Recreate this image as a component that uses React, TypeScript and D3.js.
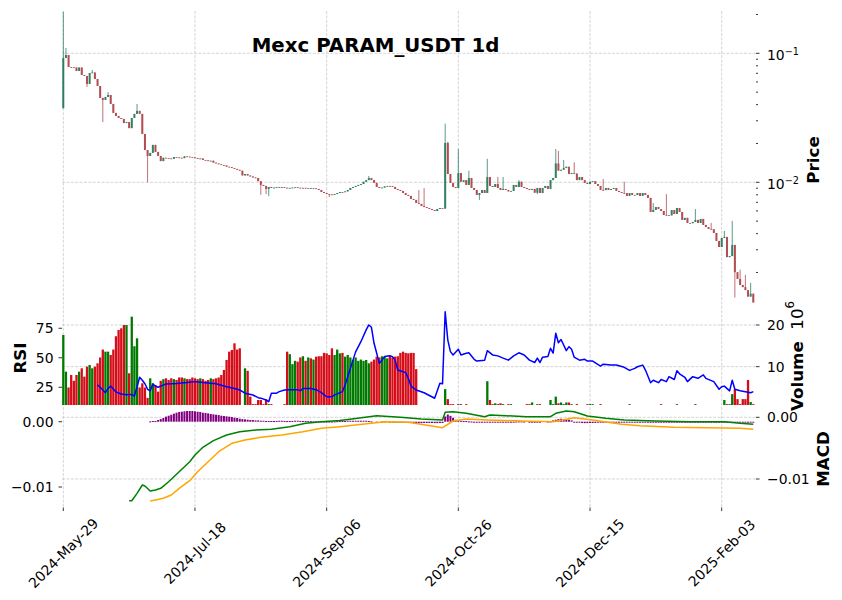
import { useEffect, useRef } from 'react';
import * as d3 from 'd3';

const TITLE = 'Mexc PARAM_USDT 1d';
const START_DATE = '2024-05-29';

// daily closes, open of each day = previous close
const firstOpen = 0.0375;
const closes = [
  0.0919, 0.097, 0.0783, 0.078, 0.0776, 0.0729, 0.0776, 0.0679, 0.0667, 0.0578,
  0.0704, 0.071, 0.0632, 0.0558, 0.0451, 0.0435, 0.0459, 0.0475, 0.0405, 0.0345,
  0.0327, 0.0315, 0.031, 0.0288, 0.0293, 0.0263, 0.0315, 0.0339, 0.0358, 0.0339,
  0.0237, 0.0178, 0.016, 0.0169, 0.0195, 0.0172, 0.016, 0.0146, 0.0155, 0.0154,
  0.0153, 0.0152, 0.0157, 0.0156, 0.0155, 0.0154, 0.0159, 0.0158, 0.0157, 0.0156,
  0.0154, 0.0152, 0.0153, 0.0149, 0.0148, 0.0146, 0.0147, 0.0142, 0.014, 0.0138,
  0.0136, 0.0135, 0.0132, 0.0131, 0.0129, 0.0127, 0.0125, 0.0123, 0.0113, 0.0116,
  0.0113, 0.0111, 0.0109, 0.0108, 0.0102, 0.00954, 0.00937, 0.00888, 0.0092, 0.00904,
  0.0091, 0.0092, 0.0091, 0.00918, 0.00908, 0.009, 0.00905, 0.0091, 0.00915, 0.00908,
  0.00902, 0.00906, 0.00898, 0.00903, 0.00895, 0.00899, 0.00888, 0.00872, 0.00841, 0.00826,
  0.00812, 0.00805, 0.00798, 0.00812, 0.00826, 0.00841, 0.00838, 0.0085, 0.00872, 0.00904,
  0.0092, 0.00937, 0.00954, 0.0097, 0.0101, 0.0104, 0.0108, 0.0104, 0.0099, 0.0092,
  0.00904, 0.0091, 0.0093, 0.00937, 0.00935, 0.0092, 0.00888, 0.00872, 0.00857, 0.00826,
  0.00798, 0.00784, 0.00743, 0.0073, 0.00692, 0.0068, 0.00655, 0.00643, 0.00632, 0.00621,
  0.0061, 0.00599, 0.00621, 0.00632, 0.00625, 0.0202, 0.0116, 0.0099, 0.0092, 0.00904,
  0.0118, 0.0101, 0.0104, 0.00954, 0.0108, 0.00904, 0.00872, 0.00798, 0.00826, 0.00872,
  0.00826, 0.011, 0.00937, 0.0092, 0.0097, 0.00904, 0.00872, 0.00888, 0.00872, 0.0085,
  0.00857, 0.00954, 0.0092, 0.0101, 0.0092, 0.00904, 0.00888, 0.00872, 0.00888, 0.0083,
  0.00904, 0.00826, 0.00904, 0.00937, 0.00888, 0.0104, 0.0108, 0.014, 0.0123, 0.0125,
  0.0129, 0.0132, 0.0116, 0.0118, 0.0117, 0.0104, 0.011, 0.0104, 0.0099, 0.0097,
  0.0101, 0.0102, 0.0097, 0.00937, 0.00872, 0.0087, 0.00904, 0.00872, 0.00888, 0.00904,
  0.00857, 0.00841, 0.00826, 0.00824, 0.00784, 0.00826, 0.00798, 0.00796, 0.00826, 0.00784,
  0.00826, 0.00798, 0.00757, 0.00589, 0.0061, 0.00643, 0.0062, 0.00599, 0.00558, 0.00556,
  0.00554, 0.0061, 0.00568, 0.00632, 0.00589, 0.00511, 0.0053, 0.00484, 0.00482, 0.00493,
  0.00511, 0.00484, 0.0052, 0.00467, 0.0045, 0.00435, 0.00433, 0.00405, 0.00351, 0.00315,
  0.0037, 0.00377, 0.00263, 0.00268, 0.00327, 0.00201, 0.00178, 0.0016, 0.00154, 0.00146,
  0.0013, 0.00137, 0.00117,
];

// [day, value] wicks that stick out beyond the body
const highWicks: [number, number][] = [
  [0, 0.21], [1, 0.11], [11, 0.0742], [17, 0.0501], [28, 0.0405], [116, 0.0112],
  [135, 0.0087], [137, 0.009], [145, 0.0285], [146, 0.0206], [150, 0.0181], [154, 0.0123],
  [161, 0.0152], [165, 0.011], [167, 0.011], [173, 0.0104], [187, 0.0181], [188, 0.0175],
  [190, 0.0149], [194, 0.0143], [205, 0.0106], [213, 0.0101], [224, 0.0069], [229, 0.0081],
  [240, 0.0062], [246, 0.00484], [251, 0.0042], [254, 0.00502], [257, 0.0021], [259, 0.00191],
  [261, 0.00166],
];
const lowWicks: [number, number][] = [
  [9, 0.0548], [15, 0.0293], [32, 0.01], [75, 0.008], [77, 0.0081], [78, 0.0078],
  [101, 0.0077], [158, 0.0073], [180, 0.0081], [255, 0.00128],
];

// volume in millions
const volumes = [
  17.6, 8.8, 5.0, 8.0, 6.6, 8.0, 8.8, 9.6, 7.6, 10.0,
  10.4, 9.6, 10.0, 10.8, 12.2, 14.1, 13.6, 13.6, 12.8, 14.1,
  17.3, 18.8, 19.2, 20.0, 20.0, 8.4, 22.0, 14.9, 16.8, 5.0,
  6.0, 5.0, 2.5, 7.2, 6.0, 5.6, 4.0, 6.6, 7.0, 7.2,
  6.8, 7.2, 7.0, 6.8, 7.4, 7.4, 7.2, 7.0, 7.0, 7.4,
  7.2, 7.0, 7.2, 7.0, 6.6, 6.8, 7.2, 7.0, 7.2, 7.4,
  8.0, 9.2, 11.6, 13.6, 14.0, 15.6, 14.1, 14.4, 0, 9.6,
  9.0, 2.8, 1.0, 1.0, 2.0, 2.0, 1.0, 2.2, 1.0, 1.0,
  0, 0, 0, 0, 1.0, 13.6, 13.0, 10.6, 11.4, 11.2,
  12.2, 12.5, 11.4, 12.2, 12.0, 11.7, 12.4, 12.5, 12.5, 13.3,
  13.2, 12.8, 14.4, 12.8, 14.1, 13.2, 13.3, 12.4, 12.8, 12.2,
  11.6, 12.2, 11.4, 11.7, 11.4, 11.6, 10.8, 11.2, 11.7, 12.4,
  12.2, 12.5, 12.4, 12.0, 12.5, 12.2, 12.4, 12.5, 13.3, 13.6,
  13.3, 13.2, 13.3, 13.3, 9.4, 0, 0, 0, 0, 0,
  0, 0, 0, 0, 0, 4.6, 2.2, 1.0, 1.0, 0,
  1.0, 1.0, 0, 1.0, 0, 0, 0, 0, 0, 0,
  0, 6.5, 2.0, 1.0, 1.2, 1.0, 1.2, 1.0, 0, 1.0,
  1.0, 0, 0, 0, 0, 0, 1.0, 1.0, 1.4, 0,
  1.0, 1.0, 0, 0, 0, 2.0, 1.0, 2.8, 1.2, 1.4,
  1.0, 1.4, 1.4, 1.0, 0, 1.0, 0, 0, 0, 1.0,
  1.0, 1.0, 0, 0, 1.0, 0, 0, 0, 0, 0,
  0, 0, 0, 0, 0, 1.0, 0, 0, 0, 0,
  0, 0, 0, 0, 0, 0, 0, 1.0, 0, 0,
  0, 0, 0, 1.0, 0, 0, 0, 0, 0, 0,
  1.0, 0, 0, 0, 0, 0, 0, 0, 0, 0,
  0, 2.0, 1.0, 1.0, 3.4, 4.6, 2.2, 1.0, 2.2, 2.2,
  6.8, 1.5, 1.0,
];

// [day, RSI]
const rsiPoints: [number, number][] = [
  [13, 27], [14, 25], [16, 20.4], [17, 24], [18, 26], [20, 21], [22, 19.3], [24, 18.6],
  [26, 19], [27, 17.6], [28, 25.5], [29, 33.5], [30, 31], [31, 28], [32, 23.3], [33, 22],
  [34, 27.8], [35, 26], [36, 25], [37, 26], [39, 27.8], [43, 28.2], [47, 29], [50, 29.8],
  [53, 29], [58, 28], [62, 25.5], [65, 24], [67, 22.7], [69, 20], [72, 18.5], [74, 16.2],
  [75, 15.8], [77, 14.2], [78, 12.8], [79, 20], [81, 20], [82, 21.3], [84, 22.7], [86, 23],
  [89, 23], [90, 22], [91, 24], [94, 24], [96, 23], [98, 20.4], [100, 17], [102, 17],
  [103, 18.6], [104, 19.4], [106, 21.3], [107, 27], [108, 34], [110, 48], [111, 55], [113, 63.6],
  [115, 73.6], [116, 77.8], [117, 75.8], [118, 62.3], [119, 53.8], [120, 45.3], [121, 48], [122, 51],
  [124, 51.7], [125, 51], [126, 48], [127, 39.7], [129, 38.2], [130, 37.4], [131, 32.6], [132, 26],
  [134, 22.7], [137, 20.4], [141, 15.7], [143, 28.4], [144, 28], [145, 89], [146, 65], [147, 55.2],
  [148, 52.4], [150, 57.2], [151, 52.4], [153, 53.8], [154, 54.2], [156, 48.7], [157, 47.2], [160, 48],
  [161, 56], [163, 52.4], [165, 51.6], [167, 49.7], [169, 48], [171, 51.6], [173, 54.2], [175, 52.4],
  [177, 48], [179, 46], [180, 49.7], [181, 46], [182, 50.5], [184, 51], [185, 58], [186, 54],
  [187, 70.8], [188, 62.7], [189, 65.5], [191, 56], [192, 59.4], [193, 57.2], [194, 50.5], [196, 48],
  [198, 48.7], [199, 47.2], [201, 47.2], [204, 43], [205, 44.6], [208, 43.8], [210, 43.8], [213, 41.9],
  [215, 39.3], [217, 41], [218, 42.4], [220, 43.8], [221, 39.8], [223, 28.9], [224, 31], [226, 28.9],
  [227, 31.6], [229, 29.8], [230, 34], [232, 31.6], [233, 39], [234, 36.4], [236, 33.5], [237, 29.8],
  [239, 34], [241, 32.6], [243, 35.5], [244, 32.6], [247, 29.8], [249, 23.3], [250, 25.5], [251, 26],
  [253, 22], [254, 31], [255, 23.3], [257, 22], [259, 21.3], [261, 20.4], [262, 21.3],
];

// [day, value]
const macdPoints: [number, number][] = [
  [25, -0.01352], [26, -0.01352], [28, -0.01232], [30, -0.01097], [31, -0.01113], [33, -0.01194],
  [35, -0.01178], [37, -0.01151], [40, -0.01044], [44, -0.00882], [48, -0.0072], [50, -0.00611],
  [53, -0.00486], [57, -0.00379], [62, -0.00287], [67, -0.00233], [73, -0.00206], [79, -0.00194],
  [86, -0.00152], [92, -0.00097], [98, -0.00071], [105, -0.00052], [111, -0.00019], [119, 0.00026],
  [128, 0], [136, -0.00028], [144, -0.00044], [145, 0.00081], [148, 0.00091], [153, 0.00065],
  [160, 0.0001], [162, 0.00037], [168, 0.00026], [176, 0.0001], [185, 0.0001], [187, 0.00065],
  [191, 0.00102], [194, 0.00091], [199, 0.00021], [206, -0.00016], [213, -0.00044], [225, -0.0006],
  [238, -0.00071], [251, -0.00071], [257, -0.00097], [262, -0.00113],
];
const signalPoints: [number, number][] = [
  [33, -0.01357], [35, -0.0134], [38, -0.01313], [41, -0.01259], [44, -0.01151], [48, -0.01028],
  [51, -0.00882], [55, -0.0072], [59, -0.00558], [64, -0.00421], [69, -0.00368], [75, -0.00324],
  [83, -0.00287], [91, -0.00233], [98, -0.00178], [105, -0.00152], [111, -0.00125], [122, -0.00071],
  [131, -0.00081], [144, -0.00169], [148, -0.0006], [153, -0.00028], [161, -0.00044], [174, -0.0006],
  [186, -0.00071], [194, -0.00006], [201, -0.00044], [212, -0.00113], [219, -0.00136], [232, -0.00162],
  [244, -0.00169], [257, -0.00178], [262, -0.00194],
];

// histogram values from day 33 onward
const HIST_START = 33;
const histValues = [
  0.00005, 0.0001, 0.0001, 0.00026, 0.0004, 0.00057, 0.00077, 0.00092, 0.00107, 0.00123,
  0.00138, 0.00149, 0.00153, 0.00159, 0.00164, 0.00164, 0.00164, 0.00159, 0.00153, 0.00149,
  0.00138, 0.00133, 0.00128, 0.00118, 0.00113, 0.00107, 0.00102, 0.00092, 0.00087, 0.00082,
  0.00077, 0.00072, 0.00061, 0.00057, 0.00046, 0.0004, 0.00036, 0.00031, 0.00026, 0.00026,
  0.0002, 0.0002, 0.00015, 0.00015, 0.0001, 0.0001,
  0.0001, 0.0001, 0.00012, 0.00015, 0.00015, 0.00012, 0.0001, 0.0001, 0.00012, 0.00015,
  0.00015, 0.00012, 0.0001, 0.0001, 0.00008, 0.00008, 0.00005, 0.00005, 0.00005,
  0.00003, 0.00003, 0.00002, 0.00002, 0.00003, 0.00005, 0.00008, 0.0001, 0.0001, 0.0001,
  0.00015, 0.00015, 0.00015, 0.00015, 0.00015, 0.00015, 0.00015, 0.00015, 0.00012,
  0.00005, 0, -0.00003, 0, 0.00003, 0.00003, 0, -0.00003, -0.00005, -0.00008,
  -0.0001, -0.00012, -0.00015, -0.00015, -0.00018, -0.0002, -0.0002, -0.0002, -0.00022, -0.00022,
  -0.0002, -0.0002, -0.0002, -0.0002,
  -0.00022, -0.00022, -0.0002, -0.0002,
  0.0008, 0.0011, 0.0009, 0.0006, 0.0003,
  0.0002, 0.00015, 0.0001, 0.0001, 0.00005, 0.00003,
  -0.00005, -0.0001, -0.00012, -0.00015, -0.00015, -0.0001, -0.00005, -0.00008, -0.0001, -0.0001,
  -0.00012, -0.00012, -0.0001, -0.0001, -0.00008, -0.00005,
  0.00003, 0.00005, 0.00005, 0.00003, 0, -0.00003, -0.00003, -0.00005, -0.00003, -0.00003,
  0, 0, 0.00003, 0.00005,
  0.0002, 0.0003, 0.0004, 0.00045, 0.0004, 0.00035, 0.0003, 0.0002,
  -0.00005, -0.0001, -0.00015, -0.0002, -0.00022, -0.00022, -0.0002, -0.0002, -0.00018, -0.00015,
  -0.00015, -0.00012, -0.0001,
  -0.00008, -0.0001, -0.00012, -0.0001, -0.00008, -0.00005, -0.00005, -0.00008, -0.0001, -0.0001,
  -0.00012, -0.00015, -0.00015, -0.00012, -0.0001, -0.0001, -0.00012, -0.00015, -0.00015, -0.00012,
  -0.0001, -0.00008, -0.00008, -0.0001, -0.00012, -0.0001, -0.00008, -0.00008, -0.0001, -0.00012,
  -0.00012, -0.0001, -0.00008, -0.00008, -0.0001, -0.0001, -0.00008, -0.00008, -0.0001, -0.00012,
  -0.00015, -0.00018, -0.00015, -0.00012, -0.0001, -0.00012, -0.00015, -0.00012, -0.0001, -0.00012,
  -0.00015, -0.00015, -0.00012, -0.00012, -0.0001, -0.0001,
];

const xTickDates = ['2024-05-29', '2024-07-18', '2024-09-06', '2024-10-26', '2024-12-15', '2025-02-03'];
const rsiTicks = [25, 50, 75];
const volumeTicks = [10, 20];
const macdTicks = [0, -0.01];

export default function App() {
  const svgRef = useRef<SVGSVGElement>(null);

  useEffect(() => {
    document.body.style.margin = '0';
    if (!svgRef.current) return;
    const svg = d3.select(svgRef.current);
    svg.selectAll('*').remove();

    const font = "'DejaVu Sans', sans-serif";
    const left = 62;
    const right = 756;
    const pricePanel = { top: 11, bottom: 305 };
    const lowerPanel = { top: 305, bottom: 405 };
    const macdPanel = { top: 406, bottom: 507.5 };

    const parse = d3.utcParse('%Y-%m-%d');
    const start = parse(START_DATE)!;
    const dayDate = (i: number) => d3.utcDay.offset(start, i);

    const x = d3
      .scaleUtc()
      .domain([parse('2024-05-29')!, parse('2025-02-03')!])
      .range([63.3, 721.7]);
    const xd = (i: number) => x(dayDate(i));

    const yPrice = d3.scaleLog().domain([0.001119, 0.2128]).range([pricePanel.bottom, pricePanel.top]);
    const yRsi = d3.scaleLinear().domain([10, 94.7]).range([lowerPanel.bottom, lowerPanel.top]);
    const yVol = d3.scaleLinear().domain([0.79, 24.8]).range([lowerPanel.bottom, lowerPanel.top]);
    const yHist = d3.scaleLinear().domain([-0.013139, 0.002405]).range([macdPanel.bottom, macdPanel.top]);
    const yMacd = d3.scaleLinear().domain([-0.014619, 0.001831]).range([macdPanel.bottom, macdPanel.top]);

    const gridColor = '#c6c6c6';
    const grid = svg.append('g').attr('stroke', gridColor).attr('stroke-width', 0.75).attr('stroke-dasharray', '3,1.4');

    // vertical grid lines at date ticks
    xTickDates.forEach((s) => {
      const tx = x(parse(s)!);
      grid.append('line').attr('x1', tx).attr('x2', tx).attr('y1', pricePanel.top).attr('y2', macdPanel.bottom);
    });
    // horizontal grid lines (right-hand axes)
    const hLine = (y: number) =>
      grid.append('line').attr('x1', left).attr('x2', right).attr('y1', y).attr('y2', y);
    [0.1, 0.01].forEach((v) => hLine(yPrice(v)));
    volumeTicks.forEach((v) => hLine(yVol(v)));
    macdTicks.forEach((v) => hLine(yMacd(v)));

    // candles
    const upColor = '#006340';
    const downColor = '#a02128';
    const highMap = new Map(highWicks);
    const lowMap = new Map(lowWicks);
    const candles = closes.map((c, i) => {
      const o = i === 0 ? firstOpen : closes[i - 1];
      const h = Math.max(o, c, highMap.get(i) ?? 0);
      const l = Math.min(o, c, lowMap.get(i) ?? Infinity);
      return { i, o, c, h, l, up: c >= o };
    });

    const candleG = svg.append('g').attr('opacity', 0.8);
    candleG
      .selectAll('line')
      .data(candles)
      .enter()
      .append('line')
      .attr('x1', (d) => xd(d.i))
      .attr('x2', (d) => xd(d.i))
      .attr('y1', (d) => yPrice(d.h))
      .attr('y2', (d) => yPrice(d.l))
      .attr('stroke', (d) => (d.up ? upColor : downColor))
      .attr('stroke-width', 0.8);
    candleG
      .selectAll('rect')
      .data(candles)
      .enter()
      .append('rect')
      .attr('x', (d) => xd(d.i) - 1)
      .attr('width', 2)
      .attr('y', (d) => yPrice(Math.max(d.o, d.c)))
      .attr('height', (d) => Math.max(0.8, yPrice(Math.min(d.o, d.c)) - yPrice(Math.max(d.o, d.c))))
      .attr('fill', (d) => (d.up ? upColor : downColor));

    // volume bars
    const volData = volumes
      .map((v, i) => ({ i, v, up: candles[i].up }))
      .filter((d) => d.v > yVol.domain()[0]);
    svg
      .append('g')
      .selectAll('rect')
      .data(volData)
      .enter()
      .append('rect')
      .attr('x', (d) => xd(d.i) - 1.15)
      .attr('width', 2.3)
      .attr('y', (d) => yVol(d.v))
      .attr('height', (d) => lowerPanel.bottom - yVol(d.v))
      .attr('fill', (d) => (d.up ? '#007a00' : '#d50d18'));

    // RSI line
    const lineGen = (ys: d3.ScaleLinear<number, number>) =>
      d3
        .line<[number, number]>()
        .x((d) => xd(d[0]))
        .y((d) => ys(d[1]));

    svg
      .append('path')
      .attr('d', lineGen(yRsi)(rsiPoints))
      .attr('fill', 'none')
      .attr('stroke', '#0000ff')
      .attr('stroke-width', 1.5)
      .attr('stroke-linejoin', 'round');

    // MACD histogram
    const histData = histValues.map((v, k) => ({ i: HIST_START + k, v })).filter((d) => d.v !== 0);
    svg
      .append('g')
      .selectAll('rect')
      .data(histData)
      .enter()
      .append('rect')
      .attr('x', (d) => xd(d.i) - 1)
      .attr('width', 2)
      .attr('y', (d) => yHist(Math.max(d.v, 0)))
      .attr('height', (d) => Math.max(1, Math.abs(yHist(d.v) - yHist(0))))
      .attr('fill', '#800080');

    // MACD + signal
    svg
      .append('path')
      .attr('d', lineGen(yMacd)(macdPoints))
      .attr('fill', 'none')
      .attr('stroke', '#008000')
      .attr('stroke-width', 1.5)
      .attr('stroke-linejoin', 'round');
    svg
      .append('path')
      .attr('d', lineGen(yMacd)(signalPoints))
      .attr('fill', 'none')
      .attr('stroke', '#ffa500')
      .attr('stroke-width', 1.5)
      .attr('stroke-linejoin', 'round');

    // axes
    const axes = svg.append('g').attr('font-family', font).attr('fill', '#000');
    const tickLine = (x1: number, x2: number, y: number) =>
      axes.append('line').attr('x1', x1).attr('x2', x2).attr('y1', y).attr('y2', y).attr('stroke', '#000').attr('stroke-width', 0.8);

    // price axis (log, right side)
    yPrice.ticks().forEach((v) => {
      const lg = Math.log10(v);
      const major = Math.abs(lg - Math.round(lg)) < 1e-9;
      tickLine(right, right + (major ? 3.5 : 2), yPrice(v));
      if (major) {
        const t = axes
          .append('text')
          .attr('x', right + 11)
          .attr('y', yPrice(v) + 6.7)
          .attr('font-size', 13.9);
        t.append('tspan').text('10');
        t.append('tspan').attr('dy', -5.5).attr('font-size', 9.7).text('\u2212' + Math.abs(Math.round(lg)));
      }
    });

    // RSI (left)
    rsiTicks.forEach((v) => {
      tickLine(left - 3.5, left, yRsi(v));
      axes
        .append('text')
        .attr('x', left - 8.5)
        .attr('y', yRsi(v) + 5)
        .attr('text-anchor', 'end')
        .attr('font-size', 13.9)
        .text(v);
    });

    // Volume (right)
    volumeTicks.forEach((v) => {
      tickLine(right, right + 3.5, yVol(v));
      axes
        .append('text')
        .attr('x', right + 11)
        .attr('y', yVol(v) + 5)
        .attr('font-size', 13.9)
        .text(v);
    });

    // MACD left (histogram scale) and right (line scale)
    const macdFmt = (v: number) => d3.format('.2f')(v).replace('-', '\u2212');
    macdTicks.forEach((v) => {
      tickLine(left - 3.5, left, yHist(v));
      axes
        .append('text')
        .attr('x', left - 8.5)
        .attr('y', yHist(v) + 5)
        .attr('text-anchor', 'end')
        .attr('font-size', 13.9)
        .text(macdFmt(v));
      tickLine(right, right + 3.5, yMacd(v));
      axes
        .append('text')
        .attr('x', right + 11)
        .attr('y', yMacd(v) + 5)
        .attr('font-size', 13.9)
        .text(macdFmt(v));
    });

    // x axis
    const dateFmt = d3.utcFormat('%Y-%b-%d');
    xTickDates.forEach((s) => {
      const tx = x(parse(s)!);
      axes
        .append('line')
        .attr('x1', tx)
        .attr('x2', tx)
        .attr('y1', macdPanel.bottom)
        .attr('y2', macdPanel.bottom + 3.5)
        .attr('stroke', '#000')
        .attr('stroke-width', 0.8);
      axes
        .append('text')
        .attr('transform', `translate(${tx},${553}) rotate(-45)`)
        .attr('text-anchor', 'middle')
        .attr('dominant-baseline', 'central')
        .attr('font-size', 13.9)
        .text(dateFmt(parse(s)!));
    });

    // labels
    const rotLabel = (cx: number, cy: number) =>
      axes
        .append('text')
        .attr('transform', `translate(${cx},${cy}) rotate(-90)`)
        .attr('text-anchor', 'middle')
        .attr('dominant-baseline', 'central')
        .attr('font-size', 16.7);

    rotLabel(813, 160).attr('font-weight', 'bold').text('Price');
    rotLabel(20, 358).attr('font-weight', 'bold').text('RSI');
    rotLabel(823, 459).attr('font-weight', 'bold').text('MACD');
    const vol = rotLabel(797, 356).style('white-space', 'pre');
    vol.append('tspan').attr('font-weight', 'bold').text('Volume  ');
    vol.append('tspan').text('10');
    vol.append('tspan').attr('dy', -7).attr('font-size', 11.7).text('6');

    // title
    axes
      .append('text')
      .attr('x', 375.5)
      .attr('y', 52)
      .attr('text-anchor', 'middle')
      .attr('font-weight', 'bold')
      .attr('font-size', 19.8)
      .text(TITLE);
  }, []);

  return <svg ref={svgRef} width={842} height={600} style={{ display: 'block', background: '#fff' }} />;
}
